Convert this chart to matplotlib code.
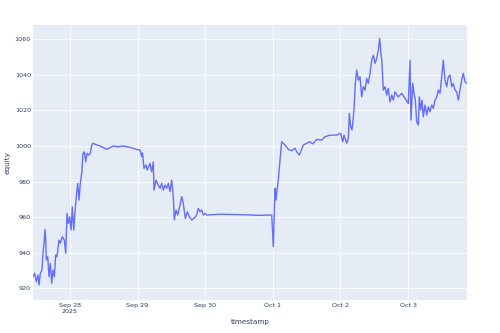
import matplotlib
matplotlib.use("Agg")
import matplotlib.pyplot as plt
import pandas as pd

# hours after 2025-09-27 00:00
hours = [10.86, 11.47, 12.04, 12.64, 13.0, 13.46, 14.06, 14.42, 14.77, 15.12,
         15.37, 15.59, 16.08, 16.55, 17.01, 17.50, 17.96, 18.43, 18.92, 19.38,
         20.09, 20.56, 21.27, 21.98, 22.47, 22.94, 23.40, 23.89, 24.36, 24.82,
         25.31, 25.78, 26.24, 26.73, 27.20, 27.66, 28.15, 28.62, 29.08, 29.57,
         30.04, 30.74, 31.21, 31.70, 32.17, 33.59, 34.65, 37.03, 39.37, 41.04,
         42.92, 45.30, 47.68, 48.85, 49.45, 49.74, 50.27, 50.98, 51.44, 52.40,
         53.0, 53.57, 53.82, 54.53, 55.34, 55.95, 56.55, 57.12, 57.72, 58.33,
         58.90, 59.50, 60.10, 60.67, 61.03, 61.63, 62.24, 63.05, 63.66, 64.22,
         64.93, 65.64, 66.36, 67.21, 68.02, 68.98, 69.55, 70.15, 70.76, 71.32,
         71.93, 72.53, 77.26, 84.36, 91.46, 95.61, 96.18, 96.78, 97.14, 97.49,
         97.95, 98.56, 99.16, 100.33, 101.50, 102.71, 103.88, 104.48, 105.41, 106.83,
         108.03, 109.21, 110.17, 111.59, 113.36, 114.53, 116.31, 118.69, 120.11, 120.82,
         121.28, 122.24, 122.81, 123.16, 123.66, 124.12, 124.83, 125.29, 125.79, 126.36,
         126.96, 127.56, 128.13, 128.73, 129.34, 129.91, 130.51, 131.11, 131.68, 132.29,
         132.89, 133.46, 133.95, 134.31, 134.77, 135.23, 135.84, 136.44, 137.01, 137.61,
         138.22, 138.78, 139.39, 140.56, 141.76, 142.94, 144.11, 144.71, 145.07, 145.67,
         146.13, 146.59, 147.09, 147.66, 148.02, 148.51, 148.97, 149.43, 150.04, 150.64,
         151.21, 151.81, 152.41, 152.98, 153.59, 154.19, 154.76, 155.36, 155.97, 156.53,
         157.14, 157.74, 158.31, 158.91, 159.52, 160.08, 160.69, 161.29, 161.86, 162.46,
         163.06, 163.63, 164.24, 164.84]

equity = [926.5, 928.4, 923.7, 927.5, 921.9, 928.4, 930.3, 939.7, 945.3, 953.1,
          947.1, 935.9, 937.8, 926.5, 934.0, 922.8, 930.3, 926.5, 938.7, 937.8,
          947.1, 945.3, 949.0, 947.1, 939.7, 962.1, 956.5, 960.2, 952.7, 965.8,
          952.7, 963.0, 971.5, 979.0, 969.6, 979.0, 984.6, 995.8, 996.7, 991.1,
          995.8, 994.9, 995.8, 1000.5, 1001.5, 1000.5, 1000.0, 998.1, 1000.0, 999.5,
          1000.0, 999.2, 998.0, 997.7, 994.0, 996.0, 987.4, 989.3, 986.5, 990.2,
          985.5, 991.0, 975.2, 980.8, 978.0, 976.2, 979.0, 975.2, 978.0, 976.2,
          979.0, 974.3, 980.8, 971.5, 958.4, 964.0, 961.2, 966.8, 971.5, 967.8,
          959.3, 963.0, 960.2, 958.4, 959.3, 961.2, 964.9, 963.0, 964.0, 961.2,
          962.1, 961.2, 961.6, 961.4, 961.0, 961.2, 943.4, 976.2, 969.6, 975.0,
          980.8, 992.1, 1002.4, 1000.5, 998.1, 997.3, 998.7, 996.7, 994.9, 1000.5,
          1001.5, 1002.4, 1001.1, 1003.7, 1003.3, 1005.2, 1006.1, 1006.1, 1007.1, 1002.4,
          1006.1, 1001.5, 1004.3, 1018.3, 1010.8, 1009.0, 1020.2, 1035.2, 1042.6, 1037.0,
          1038.9, 1027.6, 1033.3, 1031.4, 1038.0, 1035.2, 1040.8, 1048.2, 1051.0, 1046.4,
          1049.2, 1053.9, 1060.4, 1053.9, 1046.4, 1031.4, 1033.3, 1028.6, 1032.4, 1024.8,
          1028.6, 1025.8, 1030.4, 1027.6, 1029.6, 1026.7, 1023.9, 1048.2, 1014.6, 1035.2,
          1029.6, 1025.8, 1013.6, 1011.7, 1027.6, 1020.2, 1025.8, 1016.4, 1023.0, 1017.4,
          1022.0, 1019.2, 1023.0, 1021.1, 1025.8, 1027.6, 1031.4, 1029.6, 1038.9, 1048.2,
          1037.0, 1033.3, 1038.9, 1039.8, 1033.3, 1035.2, 1031.4, 1030.5, 1025.8, 1031.4,
          1037.0, 1040.8, 1036.1, 1035.2]

tick_days = ["2025-09-28", "2025-09-29", "2025-09-30", "2025-10-01", "2025-10-02", "2025-10-03"]
tick_names = ["Sep 28\n2025", "Sep 29", "Sep 30", "Oct 1", "Oct 2", "Oct 3"]
y_ticks = [920, 940, 960, 980, 1000, 1020, 1040, 1060]

start = pd.Timestamp("2025-09-27")
ts = start + pd.to_timedelta(hours, unit="h")

fig = plt.figure(figsize=(5, 3.33), dpi=100)
ax = fig.add_axes([0.066, 0.099, 0.8674, 0.826])
ax.set_facecolor("#E5ECF6")

ax.plot(ts, equity, color="#636EFA", lw=1.0, zorder=3)

ax.set_xlim(ts[0], ts[-1])
ax.set_ylim(913.4, 1068)
ax.set_xticks(pd.to_datetime(tick_days))
ax.set_xticklabels(tick_names)
ax.set_yticks(y_ticks)
ax.grid(True, color="white", lw=0.6, zorder=0)
ax.set_axisbelow(True)
for s in ax.spines.values():
    s.set_visible(False)
ax.tick_params(length=0, labelsize=4.6, colors="#2a3f5f", pad=2)
ax.tick_params(axis="y", pad=1.5)

ax.set_xlabel("timestamp", fontsize=5.2, color="#2a3f5f", labelpad=4)
ax.set_ylabel("equity", fontsize=5.2, color="#2a3f5f", labelpad=3)

fig.savefig("out.png", dpi=100, facecolor="white")
